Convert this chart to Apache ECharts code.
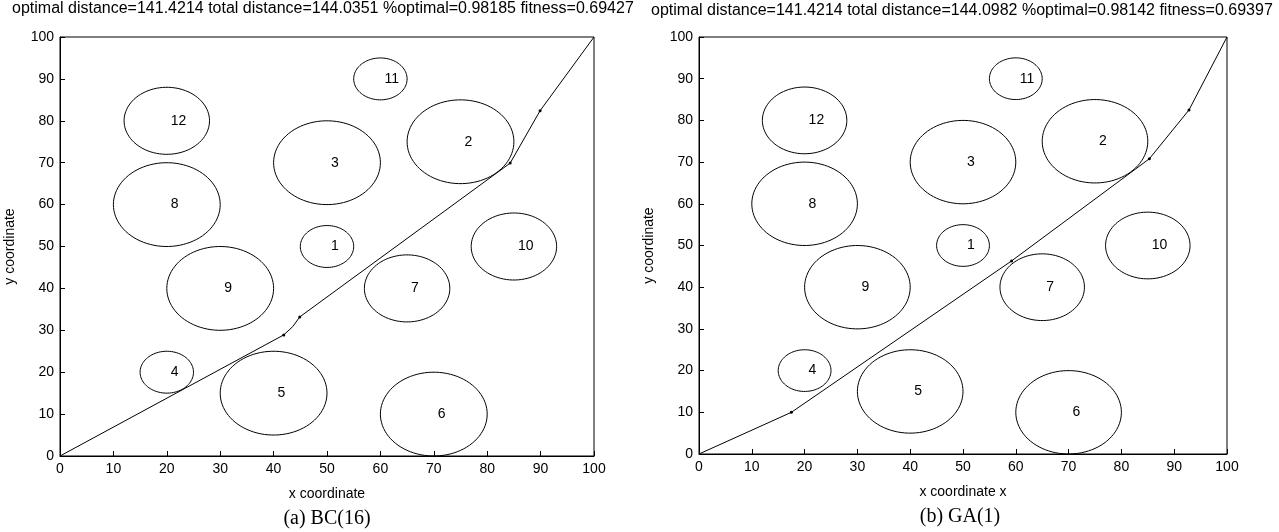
<!DOCTYPE html>
<html>
<head>
<meta charset="utf-8">
<script src="https://cdn.jsdelivr.net/npm/echarts@6/dist/echarts.min.js"></script>
<style>
html,body{margin:0;padding:0;background:#fff;}
#chart{width:1279px;height:532px;}
</style>
</head>
<body>
<div id="chart"></div>
<script>
// ---- data ----
const obstacleLabels = ['1','2','3','4','5','6','7','8','9','10','11','12'];
const obstacleX = [50, 75, 50, 20, 40, 70, 65, 20, 30, 85, 60, 20];
const obstacleY = [50, 75, 70, 20, 15, 10, 40, 60, 40, 50, 90, 80];
const obstacleR = [5, 10, 10, 5, 10, 10, 8, 10, 10, 8, 5, 8];

const bcPathX = [0, 41.9, 43.6, 44.9, 84.3, 89.9, 100];
const bcPathY = [0, 28.9, 30.9, 33.2, 69.9, 82.4, 100];
const bcVertexDot = [false, true, false, true, true, true, false];
const gaPathX = [0, 17.5, 59.2, 85.3, 92.8, 100];
const gaPathY = [0, 10, 46.3, 70.8, 82.5, 100];
const gaVertexDot = [false, true, true, true, true, false];

const titleBC = 'optimal distance=141.4214 total distance=144.0351 %optimal=0.98185 fitness=0.69427';
const titleGA = 'optimal distance=141.4214 total distance=144.0982 %optimal=0.98142 fitness=0.69397';
const xNameBC = 'x coordinate';
const xNameGA = 'x coordinate x';
const yName = 'y coordinate';
const captionBC = '(a) BC(16)';
const captionGA = '(b) GA(1)';

// ---- build ----
const circleData = obstacleLabels.map((l, i) => [obstacleX[i], obstacleY[i], obstacleR[i], l]);
function pathData(xs, ys, dots) {
  return xs.map((x, i) => ({ value: [x, ys[i]], symbolSize: dots[i] ? 3 : 0 }));
}

const font = 'Liberation Sans, Arial, sans-serif';

function renderCircle(params, api) {
  const cx = api.value(0), cy = api.value(1), r = api.value(2);
  const pts = [];
  const n = 90;
  for (let k = 0; k <= n; k++) {
    const t = (k / n) * Math.PI * 2;
    pts.push(api.coord([cx + r * Math.cos(t), cy + r * Math.sin(t)]));
  }
  const c = api.coord([cx, cy]);
  return {
    type: 'group',
    children: [
      { type: 'polyline', shape: { points: pts }, style: { stroke: '#000', fill: 'none', lineWidth: 1 } },
      { type: 'text', style: { text: String(circleData[params.dataIndex][3]), x: c[0] + 4, y: c[1], textAlign: 'left', textVerticalAlign: 'middle', fill: '#000', font: '14px ' + font } }
    ]
  };
}

function xAxisCfg(gi, name) {
  return {
    gridIndex: gi, type: 'value', min: 0, max: 100, interval: 10,
    name: name, nameLocation: 'middle', nameGap: 31,
    nameTextStyle: { color: '#000', fontSize: 14, fontFamily: font },
    axisLine: { show: true, onZero: false, lineStyle: { color: '#000', width: 1 } },
    axisTick: { show: true, inside: true, length: 5, lineStyle: { color: '#000' } },
    axisLabel: { color: '#000', fontSize: 14, fontFamily: font, margin: 6 },
    splitLine: { show: false }
  };
}
function yAxisCfg(gi) {
  return {
    gridIndex: gi, type: 'value', min: 0, max: 100, interval: 10,
    name: yName, nameLocation: 'middle', nameGap: 43, nameRotate: 90,
    nameTextStyle: { color: '#000', fontSize: 14, fontFamily: font },
    axisLine: { show: true, onZero: false, lineStyle: { color: '#000', width: 1 } },
    axisTick: { show: true, inside: true, length: 5, lineStyle: { color: '#000' } },
    axisLabel: { color: '#000', fontSize: 14, fontFamily: font, margin: 6 },
    splitLine: { show: false }
  };
}

const chart = echarts.init(document.getElementById('chart'), null, { renderer: 'canvas' });
chart.setOption({
  backgroundColor: '#fff',
  animation: false,
  grid: [
    { left: 60, top: 37, width: 534, height: 419, show: true, borderColor: '#000', borderWidth: 1, backgroundColor: 'transparent' },
    { left: 699, top: 37, width: 528, height: 417, show: true, borderColor: '#000', borderWidth: 1, backgroundColor: 'transparent' }
  ],
  xAxis: [xAxisCfg(0, xNameBC), xAxisCfg(1, xNameGA)],
  yAxis: [yAxisCfg(0), yAxisCfg(1)],
  graphic: [
    { type: 'text', left: 327 - 315, top: 1, style: { text: titleBC, fill: '#000', font: '16px ' + font } },
    { type: 'text', left: 963 - 312, top: 3, style: { text: titleGA, fill: '#000', font: '16px ' + font } },
    { type: 'text', x: 327, y: 519, style: { text: captionBC, fill: '#000', font: '20px Liberation Serif, Times New Roman, serif', textAlign: 'center', textVerticalAlign: 'middle' } },
    { type: 'text', x: 960, y: 517, style: { text: captionGA, fill: '#000', font: '20px Liberation Serif, Times New Roman, serif', textAlign: 'center', textVerticalAlign: 'middle' } }
  ],
  series: [
    { type: 'custom', xAxisIndex: 0, yAxisIndex: 0, data: circleData, renderItem: renderCircle, silent: true },
    { type: 'custom', xAxisIndex: 1, yAxisIndex: 1, data: circleData, renderItem: renderCircle, silent: true },
    { type: 'line', xAxisIndex: 0, yAxisIndex: 0, data: pathData(bcPathX, bcPathY, bcVertexDot), symbol: 'circle', showAllSymbol: true,
      lineStyle: { color: '#000', width: 1 }, itemStyle: { color: '#000' } },
    { type: 'line', xAxisIndex: 1, yAxisIndex: 1, data: pathData(gaPathX, gaPathY, gaVertexDot), symbol: 'circle', showAllSymbol: true,
      lineStyle: { color: '#000', width: 1 }, itemStyle: { color: '#000' } }
  ]
});
</script>
</body>
</html>
